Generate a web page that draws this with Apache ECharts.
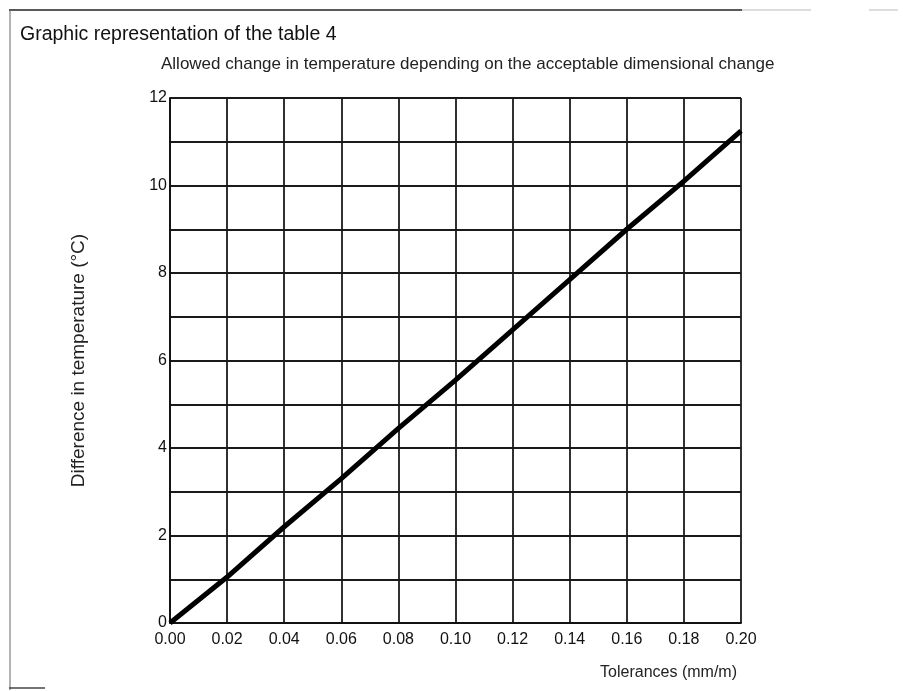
<!DOCTYPE html>
<html><head><meta charset="utf-8">
<script src="https://cdn.jsdelivr.net/npm/echarts@6/dist/echarts.min.js"></script>
<style>html,body{margin:0;padding:0;background:#fff}#c{width:903px;height:691px}</style>
</head><body><div id="c"></div>
<script>
const tolerances = [0.00, 0.02, 0.04, 0.06, 0.08, 0.10, 0.12, 0.14, 0.16, 0.18, 0.20];
const tempDiff   = [0.0, 1.05, 2.2, 3.3, 4.45, 5.55, 6.7, 7.85, 9.0, 10.1, 11.25];
const titleText = 'Graphic representation of the table 4';
const subtitleText = 'Allowed change in temperature depending on the acceptable dimensional change';
const xName = 'Tolerances (mm/m)';
const yName = 'Difference in temperature (\u00B0C)';

const chart = echarts.init(document.getElementById('c'), null, {renderer: 'canvas'});
const font = 'Liberation Sans, Arial, sans-serif';
chart.setOption({
  animation: false,
  backgroundColor: '#fff',
  title: [
    {text: titleText, left: 20, top: 25, padding: 0, textStyle: {fontFamily: font, fontSize: 19.5, fontWeight: 'normal', color: '#111'}},
    {text: subtitleText, left: 161, top: 56, padding: 0, textStyle: {fontFamily: font, fontSize: 17, fontWeight: 'normal', color: '#222'}}
  ],
  grid: {left: 170, right: 162, top: 98, bottom: 68},
  xAxis: {
    type: 'value', min: 0, max: 0.20, interval: 0.02,
    name: xName, nameLocation: 'end', nameGap: -4,
    nameTextStyle: {fontFamily: font, fontSize: 16, color: '#222', align: 'right', verticalAlign: 'top', padding: [42, 0, 0, 0]},
    axisLine: {show: true, lineStyle: {color: '#111', width: 1.8}},
    axisTick: {show: false},
    axisLabel: {fontFamily: font, fontSize: 16, color: '#111', margin: 9, formatter: v => v.toFixed(2)},
    splitLine: {show: true, lineStyle: {color: '#1a1a1a', width: 1.8}}
  },
  yAxis: {
    type: 'value', min: 0, max: 12, interval: 1,
    name: yName, nameLocation: 'middle', nameGap: 82, nameRotate: 90,
    nameTextStyle: {fontFamily: font, fontSize: 19, color: '#222'},
    axisLine: {show: true, lineStyle: {color: '#111', width: 1.8}},
    axisTick: {show: false},
    axisLabel: {fontFamily: font, fontSize: 16, color: '#111', margin: 3, formatter: v => (v % 2 === 0 ? String(v) : '')},
    splitLine: {show: true, lineStyle: {color: '#1a1a1a', width: 1.8}}
  },
  series: [{
    type: 'line',
    data: tolerances.map((x, i) => [x, tempDiff[i]]),
    showSymbol: false,
    lineStyle: {color: '#000', width: 5},
    z: 5
  }],
  graphic: [
    {type: 'line', shape: {x1: 9, y1: 10, x2: 742, y2: 10}, style: {stroke: '#222', lineWidth: 1.5}},
    {type: 'line', shape: {x1: 742, y1: 10, x2: 811, y2: 10}, style: {stroke: '#bbb', lineWidth: 1}},
    {type: 'line', shape: {x1: 869, y1: 10, x2: 898, y2: 10}, style: {stroke: '#bbb', lineWidth: 1}},
    {type: 'line', shape: {x1: 10, y1: 10, x2: 10, y2: 690}, style: {stroke: '#666', lineWidth: 1}},
    {type: 'line', shape: {x1: 9, y1: 688, x2: 45, y2: 688}, style: {stroke: '#444', lineWidth: 1.5}}
  ]
});
</script>
</body></html>
